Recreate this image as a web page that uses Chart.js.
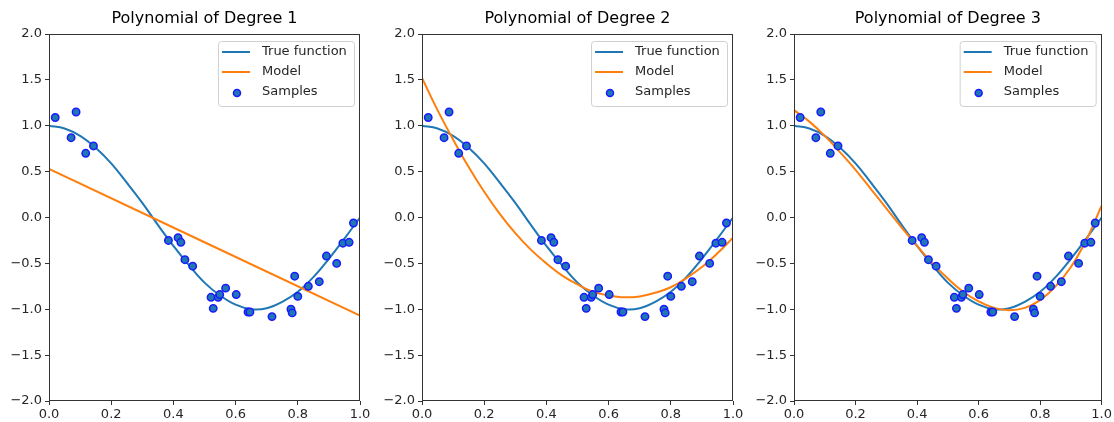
<!DOCTYPE html>
<html>
<head>
<meta charset="utf-8">
<script src="https://cdn.jsdelivr.net/npm/chart.js@4/dist/chart.umd.min.js"></script>
<style>
    html, body { margin: 0; padding: 0; background: #fff; overflow: hidden; }
    body { width: 1114px; height: 422px; position: relative; }
    canvas { position: absolute; top: 0; }
</style>
</head>
<body>
<canvas id="c1" width="371" height="422" style="left:3px"></canvas>
<canvas id="c2" width="371" height="422" style="left:376px"></canvas>
<canvas id="c3" width="366" height="422" style="left:748px"></canvas>
<script>
    "use strict";

    // samples
    const sampleX = [0.020, 0.071, 0.087, 0.118, 0.143, 0.384, 0.415, 0.424, 0.437, 0.462,
        0.521, 0.528, 0.544, 0.549, 0.568, 0.602, 0.640, 0.646, 0.717, 0.778,
        0.782, 0.790, 0.800, 0.834, 0.869, 0.892, 0.925, 0.945, 0.965, 0.979];
    const sampleY = [1.09, 0.87, 1.15, 0.70, 0.78, -0.25, -0.22, -0.27, -0.46, -0.53,
        -0.87, -0.99, -0.87, -0.84, -0.77, -0.84, -1.03, -1.03, -1.08, -1.00,
        -1.04, -0.64, -0.86, -0.75, -0.70, -0.42, -0.50, -0.28, -0.27, -0.06];

    // curves, read at steps of 0.05
    const gridX = [0, 0.05, 0.1, 0.15, 0.2, 0.25, 0.3, 0.35, 0.4, 0.45, 0.5,
        0.55, 0.6, 0.65, 0.7, 0.75, 0.8, 0.85, 0.9, 0.95, 1];
    const trueY = [1, 0.97, 0.89, 0.76, 0.59, 0.38, 0.16, -0.08, -0.31, -0.52, -0.71,
        -0.85, -0.95, -1.0, -0.99, -0.92, -0.81, -0.65, -0.45, -0.23, 0];
    const lineX = [0, 1];
    const deg1Y = [0.53, -1.07];
    const deg2Y = [1.52, 1.17, 0.85, 0.55, 0.28, 0.04, -0.17, -0.35, -0.50, -0.63, -0.73,
        -0.81, -0.85, -0.87, -0.86, -0.82, -0.76, -0.66, -0.54, -0.39, -0.22];
    const deg3Y = [1.17, 1.045, 0.89, 0.71, 0.52, 0.31, 0.10, -0.11, -0.31, -0.50, -0.665,
        -0.81, -0.915, -0.985, -1.01, -0.985, -0.90, -0.75, -0.54, -0.245, 0.13];

    const degrees = [1, 2, 3];
    const xTicks = [0, 0.2, 0.4, 0.6, 0.8, 1.0];
    const yTicks = [-2, -1.5, -1, -0.5, 0, 0.5, 1, 1.5, 2];
    const legendLabels = ["True function", "Model", "Samples"];

    const FONT = "DejaVu Sans";
    const C_TRUE = "#1f77b4";
    const C_MODEL = "#ff7f0e";
    const TEXT = "#262626";

    function pts(xs, ys) {
        return xs.map((x, i) => ({ x: x, y: ys[i] }));
    }

    function fmt(v) {
        const s = Math.abs(v).toFixed(1);
        return v < 0 ? "\u2212" + s : s;
    }

    const framePlugin = {
        id: "frame",
        afterDraw(chart, args, opts) {
            const a = chart.chartArea;
            const ctx = chart.ctx;
            ctx.save();
            ctx.strokeStyle = "#333";
            ctx.lineWidth = 1;
            ctx.strokeRect(Math.round(a.left) + 0.5, Math.round(a.top) + 0.5,
                Math.round(a.right - a.left) - 1, Math.round(a.bottom - a.top) - 1);

            // title centred over the axes
            ctx.font = "16px '" + FONT + "'";
            ctx.fillStyle = "#000";
            ctx.textAlign = "center";
            ctx.textBaseline = "middle";
            ctx.fillText(opts.title, (a.left + a.right) / 2, 19);
            ctx.textAlign = "left";

            // legend box, top right inside the axes
            const w = 136, h = 65;
            const left = a.right - 6 - w, top = a.top + 7;
            ctx.beginPath();
            ctx.roundRect(left + 0.5, top + 0.5, w, h, 3);
            ctx.fillStyle = "rgba(255,255,255,0.8)";
            ctx.fill();
            ctx.strokeStyle = "#d0d0d0";
            ctx.stroke();
            ctx.font = "13px '" + FONT + "'";
            legendLabels.forEach((label, i) => {
                const y = top + 11 + i * 20;
                if (i < 2) {
                    ctx.beginPath();
                    ctx.moveTo(left + 4, y);
                    ctx.lineTo(left + 32, y);
                    ctx.strokeStyle = i === 0 ? C_TRUE : C_MODEL;
                    ctx.lineWidth = 2;
                    ctx.stroke();
                } else {
                    ctx.beginPath();
                    ctx.arc(left + 19, y + 1, 3.5, 0, Math.PI * 2);
                    ctx.fillStyle = C_TRUE;
                    ctx.fill();
                    ctx.strokeStyle = "#1a1aff";
                    ctx.lineWidth = 1.5;
                    ctx.stroke();
                }
                ctx.fillStyle = TEXT;
                ctx.fillText(label, left + 44, y);
            });
            ctx.restore();
        }
    };

    function build(id, degree, modelX, modelY, rightPad) {
        const canvas = document.getElementById(id);
        return new Chart(canvas.getContext("2d"), {
            type: "scatter",
            data: {
                datasets: [
                    {
                        label: "Samples",
                        data: pts(sampleX, sampleY),
                        backgroundColor: C_TRUE,
                        borderColor: "#1a1aff",
                        borderWidth: 1.5,
                        pointRadius: 3.7,
                        order: 0
                    },
                    {
                        label: "Model",
                        type: "line",
                        data: pts(modelX, modelY),
                        borderColor: C_MODEL,
                        borderWidth: 2,
                        pointRadius: 0,
                        fill: false,
                        tension: 0.4,
                        order: 1
                    },
                    {
                        label: "True function",
                        type: "line",
                        data: pts(gridX, trueY),
                        borderColor: C_TRUE,
                        borderWidth: 2,
                        pointRadius: 0,
                        fill: false,
                        tension: 0.4,
                        order: 2
                    }
                ]
            },
            options: {
                responsive: false,
                animation: false,
                devicePixelRatio: 1,
                layout: { padding: { left: 0, right: rightPad, top: 34, bottom: 0 } },
                plugins: {
                    legend: { display: false },
                    tooltip: { enabled: false },
                    title: { display: false },
                    frame: { title: "Polynomial of Degree " + degree }
                },
                scales: {
                    x: {
                        type: "linear",
                        min: 0,
                        max: 1,
                        afterFit: s => { s.height = 21; },
                        afterBuildTicks: s => { s.ticks = xTicks.map(v => ({ value: v })); },
                        grid: { drawOnChartArea: false, tickLength: 4, color: "#333" },
                        border: { display: false },
                        ticks: {
                            padding: 2,
                            color: TEXT,
                            maxRotation: 0,
                            font: { family: FONT, size: 13 },
                            callback: v => fmt(v)
                        }
                    },
                    y: {
                        type: "linear",
                        min: -2,
                        max: 2,
                        afterFit: s => { s.width = 46; },
                        afterBuildTicks: s => { s.ticks = yTicks.map(v => ({ value: v })); },
                        grid: { drawOnChartArea: false, tickLength: 4, color: "#333" },
                        border: { display: false },
                        ticks: {
                            padding: 3,
                            color: TEXT,
                            font: { family: FONT, size: 13 },
                            callback: v => fmt(v)
                        }
                    }
                }
            },
            plugins: [framePlugin]
        });
    }

    build("c1", degrees[0], lineX, deg1Y, 14);
    build("c2", degrees[1], gridX, deg2Y, 14);
    build("c3", degrees[2], gridX, deg3Y, 9);
</script>
</body>
</html>
